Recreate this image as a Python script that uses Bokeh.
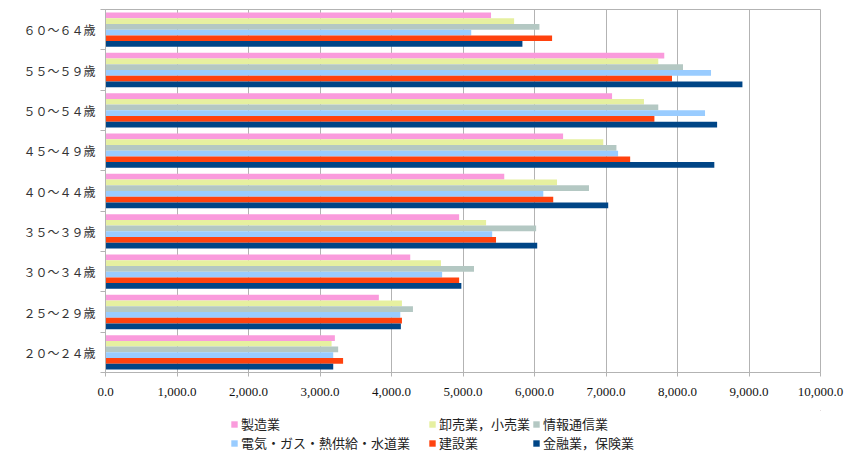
from bokeh.plotting import figure
from bokeh.models import (ColumnDataSource, Range1d, FixedTicker, NumeralTickFormatter,
                          Legend, LegendItem)
from bokeh.layouts import column
from bokeh.transform import dodge
from bokeh.embed import file_html
from bokeh.resources import INLINE

# ---- data (bottom to top) ----
categories = ["２０～２４歳", "２５～２９歳", "３０～３４歳", "３５～３９歳", "４０～４４歳",
              "４５～４９歳", "５０～５４歳", "５５～５９歳", "６０～６４歳"]
series_names = ["製造業", "卸売業，小売業", "情報通信業", "電気・ガス・熱供給・水道業", "建設業", "金融業，保険業"]
manufacturing = [3208, 3823, 4262, 4946, 5577, 6400, 7085, 7815, 5392]
wholesale_retail = [3162, 4146, 4692, 5323, 6315, 6962, 7531, 7731, 5715]
info_comm = [3254, 4300, 5154, 6023, 6762, 7146, 7731, 8077, 6069]
utilities = [3185, 4123, 4708, 5408, 6123, 7169, 8385, 8469, 5115]
construction = [3323, 4146, 4946, 5462, 6262, 7338, 7677, 7923, 6246]
finance = [3185, 4131, 4977, 6038, 7031, 8515, 8554, 8908, 5831]
x_ticks = [0, 1000, 2000, 3000, 4000, 5000, 6000, 7000, 8000, 9000, 10000]

colors = ["#fa9bdc", "#e6f0a0", "#b4c8c3", "#99ccff", "#ff420e", "#004586"]

src = ColumnDataSource(dict(y=list(range(len(categories))),
                            s0=manufacturing, s1=wholesale_retail, s2=info_comm,
                            s3=utilities, s4=construction, s5=finance))

p = figure(width=862, height=410, output_backend="svg", toolbar_location=None,
           x_range=Range1d(0, 10000), y_range=Range1d(-0.5, 8.5),
           min_border_left=105, min_border_right=42, min_border_top=9, min_border_bottom=38)

p.outline_line_color = "#b3b3b3"
p.background_fill_color = "white"
p.border_fill_color = "white"

h = 0.142
for k in range(6):
    off = (2.5 - k) * h
    p.hbar(y=dodge("y", off, range=p.y_range), right="s%d" % k, left=0, height=h,
           source=src, fill_color=colors[k], line_color=None)

# x axis
p.xaxis.ticker = FixedTicker(ticks=x_ticks)
p.xaxis.formatter = NumeralTickFormatter(format="0,0.0")
p.xaxis.axis_line_color = "#b3b3b3"
p.xaxis.major_tick_line_color = "#b3b3b3"
p.xaxis.major_tick_out = 4
p.xaxis.major_tick_in = 0
p.xaxis.minor_tick_line_color = None
p.xaxis.major_label_text_font = "Liberation Sans Narrow"
p.xaxis.major_label_text_font_size = "13px"
p.xaxis.major_label_text_color = "#111111"
p.xaxis.major_label_standoff = 11
p.xgrid.grid_line_color = "#b3b3b3"
p.xgrid.ticker = FixedTicker(ticks=x_ticks)

# y axis
p.yaxis.ticker = FixedTicker(ticks=list(range(len(categories))),
                             minor_ticks=[i - 0.5 for i in range(len(categories) + 1)])
p.yaxis.major_label_overrides = {i: c for i, c in enumerate(categories)}
p.yaxis.major_tick_line_color = None
p.yaxis.major_tick_out = 0
p.yaxis.major_tick_in = 0
p.yaxis.minor_tick_line_color = "#b3b3b3"
p.yaxis.minor_tick_out = 5
p.yaxis.minor_tick_in = 0
p.yaxis.axis_line_color = "#b3b3b3"
p.yaxis.major_label_text_font = "Noto Sans CJK JP"
p.yaxis.major_label_text_font_size = "12px"
p.yaxis.major_label_text_color = "#333333"
p.yaxis.major_label_standoff = 5
p.ygrid.grid_line_color = None

# legend figure below the chart (frames align with the chart above)
lf = figure(width=862, height=44, output_backend="svg", toolbar_location=None,
            x_range=Range1d(0, 1), y_range=Range1d(0, 1),
            x_axis_type=None, y_axis_type=None,
            min_border_left=105, min_border_right=42, min_border_top=0, min_border_bottom=0)
lf.outline_line_color = None
lf.xgrid.grid_line_color = None
lf.ygrid.grid_line_color = None
legend_renderers = [lf.hbar(y=[5], right=[5], left=4, height=0.1, fill_color=c, line_color=None)
                    for c in colors]

# (column x, row y) for each series, in the legend strip
item_pos = [(125, 21), (323, 21), (427, 21), (125, 2), (323, 2), (427, 2)]
for i, (lx, ly) in enumerate(item_pos):
    lg = Legend(items=[LegendItem(label=series_names[i], renderers=[legend_renderers[i]])],
                location=(lx, ly), orientation="vertical",
                glyph_width=8, glyph_height=8, label_standoff=3, spacing=0,
                padding=0, margin=0, border_line_color=None, background_fill_alpha=0,
                label_text_font="Noto Sans CJK JP", label_text_font_size="13px",
                label_text_color="#222222", label_height=16)
    lf.add_layout(lg, "center")

open("out.html", "w").write(file_html(column(p, lf, spacing=0), INLINE))
